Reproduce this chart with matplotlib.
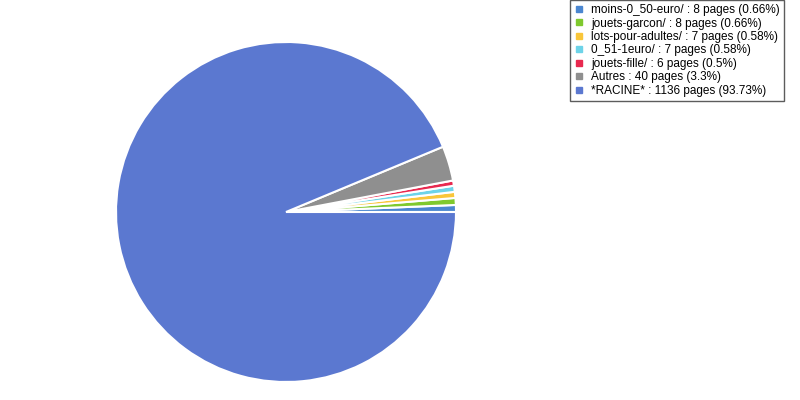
import matplotlib.pyplot as plt
from matplotlib.lines import Line2D

plt.rcParams['font.family'] = ['Liberation Sans', 'DejaVu Sans']

labels = ['moins-0_50-euro/', 'jouets-garcon/', 'lots-pour-adultes/', '0_51-1euro/',
          'jouets-fille/', 'Autres', '*RACINE*']
pages = [8, 8, 7, 7, 6, 40, 1136]
percents = ['0.66%', '0.66%', '0.58%', '0.58%', '0.5%', '3.3%', '93.73%']
colors = ['#4a86d0', '#7fc92e', '#f9c63a', '#6dd3e8', '#e8294f', '#8f8f8f', '#5b78d0']

fig = plt.figure(figsize=(8, 4), dpi=100)
ax = fig.add_axes([(286 - 170) / 800, 18 / 400, 340 / 800, 340 / 400])
ax.pie(pages, colors=colors, startangle=0, counterclock=True, radius=1,
       wedgeprops=dict(edgecolor='white', linewidth=1.5))
ax.set_xlim(-1, 1)
ax.set_ylim(-1, 1)
ax.set_aspect('equal')
ax.axis('off')

handles = [Line2D([], [], marker='s', linestyle='', markersize=5, color=c) for c in colors]
texts = [f'{l} : {p} pages ({pc})' for l, p, pc in zip(labels, pages, percents)]
leg = fig.legend(handles, texts, loc='upper right', bbox_to_anchor=(784 / 800, 1.0),
                 fontsize=8.5, frameon=True, fancybox=False, handlelength=0.8,
                 handletextpad=0.6, labelspacing=0.12, borderpad=0.35, borderaxespad=0)
leg.get_frame().set_edgecolor('#333333')
leg.get_frame().set_linewidth(1)

fig.savefig('out.png', dpi=100)
